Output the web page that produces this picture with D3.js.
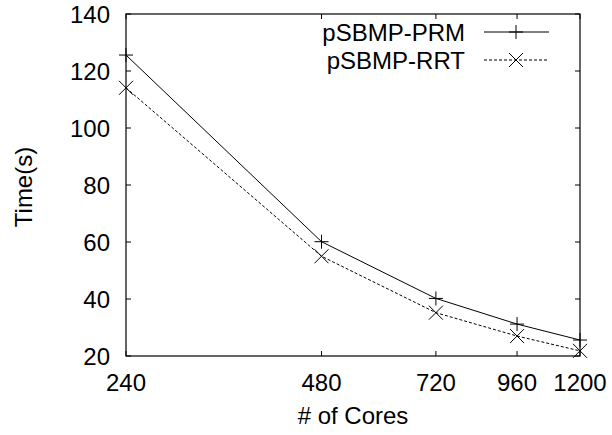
<!DOCTYPE html>
<html>
<head>
<meta charset="utf-8">
<script src="https://cdn.jsdelivr.net/npm/d3@7"></script>
<style>
  body { margin: 0; background: #fff; }
  text { font-family: "Liberation Sans", Arial, sans-serif; font-size: 24px; fill: #000; }
</style>
</head>
<body>
<svg class="main" width="612" height="435"></svg>
<script>
var cores = [240, 480, 720, 960, 1200],
    prm = [125.6, 60.1, 40.2, 31.2, 25.6],
    rrt = [114.1, 55.0, 35.2, 27.0, 21.8],
    yTicks = [20, 40, 60, 80, 100, 120, 140];

var svg = d3.select(".main");

var plotL = 126, plotR = 580, plotT = 14, plotB = 356;

var x = d3.scaleLog().domain([240, 1200]).range([plotL, plotR]),
    y = d3.scaleLinear().domain([20, 140]).range([plotB, plotT]);

var tickLen = 5;

// inner ticks on all four sides
var g = svg.append("g");
yTicks.forEach(function(v) {
    g.append("line").attr("x1", plotL).attr("x2", plotL + tickLen)
        .attr("y1", y(v)).attr("y2", y(v)).attr("stroke", "#000");
    g.append("line").attr("x1", plotR).attr("x2", plotR - tickLen)
        .attr("y1", y(v)).attr("y2", y(v)).attr("stroke", "#000");
    g.append("text").attr("x", plotL - 16).attr("y", y(v))
        .attr("text-anchor", "end").attr("dy", "0.36em").text(v);
});
cores.forEach(function(v) {
    g.append("line").attr("x1", x(v)).attr("x2", x(v))
        .attr("y1", plotB).attr("y2", plotB - tickLen).attr("stroke", "#000");
    g.append("line").attr("x1", x(v)).attr("x2", x(v))
        .attr("y1", plotT).attr("y2", plotT + tickLen).attr("stroke", "#000");
    g.append("text").attr("x", x(v)).attr("y", 391)
        .attr("text-anchor", "middle").text(v);
});

// frame
svg.append("rect").attr("x", plotL).attr("y", plotT)
    .attr("width", plotR - plotL).attr("height", plotB - plotT)
    .attr("fill", "none").attr("stroke", "#000").attr("stroke-width", 1.2);

// axis titles
svg.append("text").attr("x", (plotL + plotR) / 2).attr("y", 424)
    .attr("text-anchor", "middle").text("# of Cores");
svg.append("text").attr("transform", "translate(32,187) rotate(-90)")
    .attr("text-anchor", "middle").text("Time(s)");

var line = d3.line()
    .x(function(d, i) { return x(cores[i]); })
    .y(function(d) { return y(d); });

function plus(sel, cx, cy) {
    sel.append("path").attr("d", "M" + (cx - 7) + "," + cy + "H" + (cx + 7) + "M" + cx + "," + (cy - 7) + "V" + (cy + 7))
        .attr("stroke", "#000").attr("fill", "none");
}
function cross(sel, cx, cy) {
    sel.append("path").attr("d", "M" + (cx - 7) + "," + (cy - 7) + "L" + (cx + 7) + "," + (cy + 7) +
        "M" + (cx - 7) + "," + (cy + 7) + "L" + (cx + 7) + "," + (cy - 7))
        .attr("stroke", "#000").attr("fill", "none");
}

svg.append("path").datum(prm).attr("d", line)
    .attr("fill", "none").attr("stroke", "#000").attr("stroke-width", 1);
svg.append("path").datum(rrt).attr("d", line)
    .attr("fill", "none").attr("stroke", "#000").attr("stroke-width", 1)
    .attr("stroke-dasharray", "3,2");

prm.forEach(function(d, i) { plus(svg, x(cores[i]), y(d)); });
rrt.forEach(function(d, i) { cross(svg, x(cores[i]), y(d)); });

// legend
var legend = [
    { name: "pSBMP-PRM", dash: null, mark: plus, cy: 32 },
    { name: "pSBMP-RRT", dash: "3,2", mark: cross, cy: 60 }
];
legend.forEach(function(l) {
    svg.append("text").attr("x", 465).attr("y", l.cy).attr("dy", "0.36em")
        .attr("text-anchor", "end").text(l.name);
    svg.append("line").attr("x1", 484).attr("x2", 549)
        .attr("y1", l.cy).attr("y2", l.cy).attr("stroke", "#000")
        .attr("stroke-dasharray", l.dash);
    l.mark(svg, 516, l.cy);
});
</script>
</body>
</html>
